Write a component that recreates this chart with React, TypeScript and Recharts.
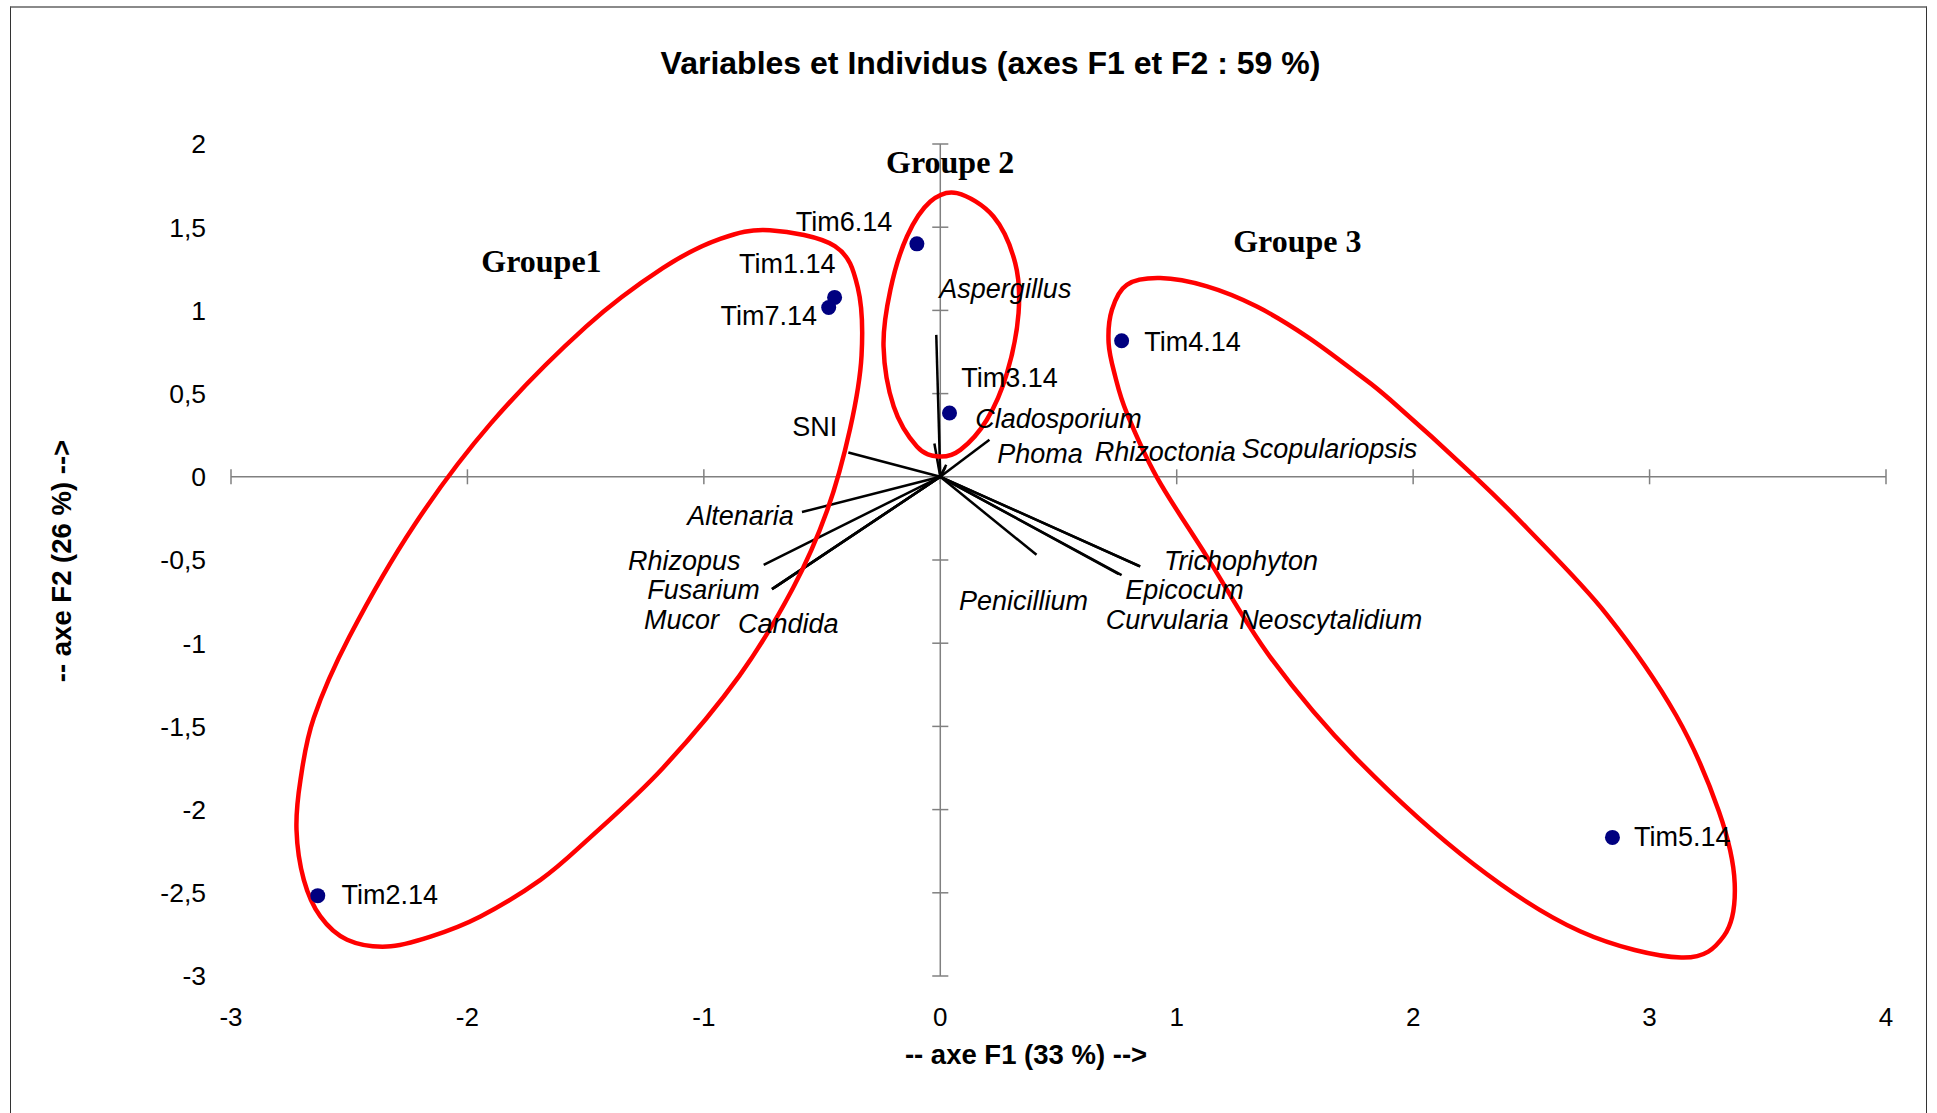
import React from "react";
import { ScatterChart, Scatter, XAxis, YAxis, ReferenceLine } from "recharts";

const xTicks = [-3, -2, -1, 0, 1, 2, 3, 4];
const yTicks = [-3, -2.5, -2, -1.5, -1, -0.5, 0, 0.5, 1, 1.5, 2];

// individus (observations)
const individuals = [
  { name: "Tim1.14", x: -0.447, y: 1.078 },
  { name: "Tim2.14", x: -2.633, y: -2.517 },
  { name: "Tim3.14", x: 0.039, y: 0.383 },
  { name: "Tim4.14", x: 0.767, y: 0.818 },
  { name: "Tim5.14", x: 2.843, y: -2.167 },
  { name: "Tim6.14", x: -0.099, y: 1.4 },
  { name: "Tim7.14", x: -0.472, y: 1.017 },
];

const individualLabels = [
  { name: "Tim1.14", x: -0.851, y: 1.278 },
  { name: "Tim2.14", x: -2.533, y: -2.516 },
  { name: "Tim3.14", x: 0.089, y: 0.595 },
  { name: "Tim4.14", x: 0.863, y: 0.811 },
  { name: "Tim5.14", x: 2.934, y: -2.166 },
  { name: "Tim6.14", x: -0.611, y: 1.532 },
  { name: "Tim7.14", x: -0.93, y: 0.968 },
];

// variables (vecteurs)
const variables = [
  { name: "Aspergillus", x: -0.017, y: 0.853 },
  { name: "Cladosporium", x: -0.025, y: 0.2 },
  { name: "Phoma", x: 0.208, y: 0.222 },
  { name: "Rhizoctonia", x: 0.025, y: 0.072 },
  { name: "Scopulariopsis", x: 0.022, y: 0.06 },
  { name: "SNI", x: -0.389, y: 0.146 },
  { name: "Altenaria", x: -0.585, y: -0.212 },
  { name: "Rhizopus", x: -0.747, y: -0.529 },
  { name: "Fusarium", x: -0.712, y: -0.675 },
  { name: "Mucor", x: -0.712, y: -0.675 },
  { name: "Candida", x: -0.7, y: -0.665 },
  { name: "Penicillium", x: 0.407, y: -0.469 },
  { name: "Trichophyton", x: 0.846, y: -0.539 },
  { name: "Epicocum", x: 0.767, y: -0.591 },
  { name: "Curvularia", x: 0.755, y: -0.585 },
  { name: "Neoscytalidium", x: 0.84, y: -0.535 },
];

const variableLabels = [
  { name: "Aspergillus", x: -0.004, y: 1.13, italic: true },
  { name: "Cladosporium", x: 0.148, y: 0.346, italic: true },
  { name: "Phoma", x: 0.241, y: 0.135, italic: true },
  { name: "Rhizoctonia", x: 0.653, y: 0.15, italic: true },
  { name: "Scopulariopsis", x: 1.275, y: 0.165, italic: true },
  { name: "SNI", x: -0.626, y: 0.297, italic: false },
  { name: "Altenaria", x: -1.07, y: -0.234, italic: true },
  { name: "Rhizopus", x: -1.321, y: -0.505, italic: true },
  { name: "Fusarium", x: -1.239, y: -0.682, italic: true },
  { name: "Mucor", x: -1.253, y: -0.859, italic: true },
  { name: "Candida", x: -0.856, y: -0.883, italic: true },
  { name: "Penicillium", x: 0.079, y: -0.749, italic: true },
  { name: "Trichophyton", x: 0.946, y: -0.504, italic: true },
  { name: "Epicocum", x: 0.782, y: -0.682, italic: true },
  { name: "Curvularia", x: 0.7, y: -0.859, italic: true },
  { name: "Neoscytalidium", x: 1.264, y: -0.859, italic: true },
];

// contours des groupes
const group1Outline = [
  { x: -0.721, y: 1.482 }, { x: -0.446, y: 1.386 }, { x: -0.349, y: 1.138 },
  { x: -0.333, y: 0.73 }, { x: -0.381, y: 0.292 }, { x: -0.479, y: -0.204 },
  { x: -0.624, y: -0.671 }, { x: -0.85, y: -1.196 }, { x: -1.174, y: -1.751 },
  { x: -1.497, y: -2.188 }, { x: -1.691, y: -2.422 }, { x: -1.945, y: -2.642 },
  { x: -2.156, y: -2.763 }, { x: -2.34, y: -2.823 }, { x: -2.509, y: -2.782 },
  { x: -2.622, y: -2.642 }, { x: -2.692, y: -2.422 }, { x: -2.723, y: -2.121 },
  { x: -2.706, y: -1.82 }, { x: -2.65, y: -1.45 }, { x: -2.5, y: -0.963 },
  { x: -2.225, y: -0.291 }, { x: -1.901, y: 0.321 }, { x: -1.497, y: 0.904 },
  { x: -1.174, y: 1.254 }, { x: -0.931, y: 1.43 },
];

const group2Outline = [
  { x: 0.071, y: 1.705 }, { x: 0.225, y: 1.564 }, { x: 0.317, y: 1.284 },
  { x: 0.331, y: 0.984 }, { x: 0.282, y: 0.623 }, { x: 0.197, y: 0.343 },
  { x: 0.085, y: 0.162 }, { x: -0.007, y: 0.122 }, { x: -0.099, y: 0.182 },
  { x: -0.197, y: 0.422 }, { x: -0.24, y: 0.783 }, { x: -0.211, y: 1.124 },
  { x: -0.141, y: 1.444 }, { x: -0.042, y: 1.654 },
];

const group3Outline = [
  { x: 0.93, y: 1.194 }, { x: 0.789, y: 1.154 }, { x: 0.726, y: 1.004 },
  { x: 0.712, y: 0.803 }, { x: 0.74, y: 0.603 }, { x: 0.789, y: 0.383 },
  { x: 0.915, y: 0.0 }, { x: 1.128, y: -0.481 },
  { x: 1.398, y: -1.088 }, { x: 1.759, y: -1.692 }, { x: 2.255, y: -2.327 },
  { x: 2.706, y: -2.731 }, { x: 3.134, y: -2.889 }, { x: 3.315, y: -2.758 },
  { x: 3.36, y: -2.442 }, { x: 3.293, y: -2.01 }, { x: 3.112, y: -1.433 },
  { x: 2.819, y: -0.828 }, { x: 2.481, y: -0.308 }, { x: 2.255, y: 0.009 },
  { x: 1.903, y: 0.463 }, { x: 1.762, y: 0.623 }, { x: 1.551, y: 0.843 },
  { x: 1.339, y: 1.023 }, { x: 1.128, y: 1.144 },
];

const groupLabels = [
  { name: "Groupe1", x: -1.687, y: 1.295 },
  { name: "Groupe 2", x: 0.042, y: 1.893 },
  { name: "Groupe 3", x: 1.51, y: 1.418 },
];

const SANS = "'Liberation Sans', Arial, sans-serif";
const SERIF = "'Liberation Serif', 'Times New Roman', serif";

// closed catmull-rom spline, used as a curve factory for the outlines
function closedSpline(context: any) {
  let pts: [number, number][] = [];
  return {
    areaStart() {},
    areaEnd() {},
    lineStart() {
      pts = [];
    },
    point(x: number, y: number) {
      pts.push([+x, +y]);
    },
    lineEnd() {
      const n = pts.length;
      if (!n) return;
      context.moveTo(pts[0][0], pts[0][1]);
      for (let i = 0; i < n; i++) {
        const p0 = pts[(i - 1 + n) % n];
        const p1 = pts[i];
        const p2 = pts[(i + 1) % n];
        const p3 = pts[(i + 2) % n];
        context.bezierCurveTo(
          p1[0] + (p2[0] - p0[0]) / 6,
          p1[1] + (p2[1] - p0[1]) / 6,
          p2[0] - (p3[0] - p1[0]) / 6,
          p2[1] - (p3[1] - p1[1]) / 6,
          p2[0],
          p2[1]
        );
      }
      context.closePath();
    },
  };
}

const noPoint = () => <g />;

const dotShape = (p: any) => <circle cx={p.cx} cy={p.cy} r={7.5} fill="#000080" />;

const labelShape = (p: any) => (
  <text
    x={p.cx}
    y={p.cy}
    dominantBaseline="central"
    fontFamily={SANS}
    fontSize={27}
    fontStyle={p.payload.italic ? "italic" : "normal"}
    fill="#000"
  >
    {p.payload.name}
  </text>
);

const groupShape = (p: any) => (
  <text
    x={p.cx}
    y={p.cy}
    textAnchor="middle"
    dominantBaseline="central"
    fontFamily={SERIF}
    fontWeight="bold"
    fontSize={32}
    fill="#000"
  >
    {p.payload.name}
  </text>
);

const fmt = (v: number) => String(v).replace(".", ",");

export default function App() {
  return (
    <div style={{ position: "absolute", left: 0, top: 0, width: 1937, height: 1113, background: "#fff", overflow: "hidden" }}>
      <div
        style={{
          position: "absolute",
          left: 10,
          top: 6,
          width: 1915,
          height: 1200,
          borderTop: "2px solid #8a8a8a",
          borderLeft: "1px solid #333",
          borderRight: "1px solid #333",
        }}
      />
      <div
        style={{
          position: "absolute",
          left: 0,
          width: 1981,
          top: 44,
          textAlign: "center",
          fontFamily: SANS,
          fontWeight: "bold",
          fontSize: 32,
          lineHeight: "38px",
        }}
      >
        Variables et Individus (axes F1 et F2 : 59 %)
      </div>
      <div
        style={{
          position: "absolute",
          left: 626,
          width: 800,
          top: 1040,
          textAlign: "center",
          fontFamily: SANS,
          fontWeight: "bold",
          fontSize: 27.5,
          lineHeight: "30px",
        }}
      >
        -- axe F1 (33 %) --&gt;
      </div>
      <div
        style={{
          position: "absolute",
          left: 62 - 200,
          width: 400,
          top: 561 - 15,
          textAlign: "center",
          fontFamily: SANS,
          fontWeight: "bold",
          fontSize: 27.5,
          lineHeight: "30px",
          transform: "rotate(-90deg)",
        }}
      >
        -- axe F2 (26 %) --&gt;
      </div>
      <div style={{ position: "absolute", left: 0, top: 0 }}>
        <ScatterChart width={1937} height={1113} margin={{ top: 144, right: 51, bottom: 77, left: 0 }}>
          <XAxis
            type="number"
            dataKey="x"
            domain={[-3, 4]}
            ticks={xTicks}
            allowDataOverflow
            axisLine={false}
            tickLine={false}
            tickSize={0}
            tickMargin={32}
            height={60}
            tick={{ fontFamily: SANS, fontSize: 26, fill: "#000" }}
          />
          <YAxis
            type="number"
            dataKey="y"
            domain={[-3, 2]}
            ticks={yTicks}
            allowDataOverflow
            axisLine={false}
            tickLine={false}
            tickSize={0}
            tickMargin={25}
            width={231}
            tickFormatter={fmt}
            tick={{ fontFamily: SANS, fontSize: 26.5, fill: "#000" }}
          />
          <ReferenceLine y={0} stroke="#808080" strokeWidth={1.5} />
          <ReferenceLine x={0} stroke="#808080" strokeWidth={1.5} />
          {xTicks.map((t) => (
            <ReferenceLine
              key={"xt" + t}
              segment={[{ x: t, y: -0.045 }, { x: t, y: 0.045 }]}
              stroke="#808080"
              strokeWidth={1.5}
              ifOverflow="visible"
            />
          ))}
          {yTicks.map((t) => (
            <ReferenceLine
              key={"yt" + t}
              segment={[{ x: -0.034, y: t }, { x: 0.034, y: t }]}
              stroke="#808080"
              strokeWidth={1.5}
              ifOverflow="visible"
            />
          ))}
          {variables.map((v) => (
            <ReferenceLine
              key={"v" + v.name}
              segment={[{ x: 0, y: 0 }, { x: v.x, y: v.y }]}
              stroke="#000"
              strokeWidth={2.5}
              ifOverflow="visible"
            />
          ))}
          {[group1Outline, group2Outline, group3Outline].map((g, i) => (
            <Scatter
              key={"g" + i}
              data={g}
              line={{ stroke: "#ff0000", strokeWidth: 4.5 }}
              lineType="joint"
              lineJointType={closedSpline as any}
              shape={noPoint}
              fill="#ff0000"
              isAnimationActive={false}
            />
          ))}
          <Scatter data={individuals} shape={dotShape} isAnimationActive={false} />
          <Scatter data={individualLabels} shape={labelShape} isAnimationActive={false} />
          <Scatter data={variableLabels} shape={labelShape} isAnimationActive={false} />
          <Scatter data={groupLabels} shape={groupShape} isAnimationActive={false} />
        </ScatterChart>
      </div>
    </div>
  );
}
